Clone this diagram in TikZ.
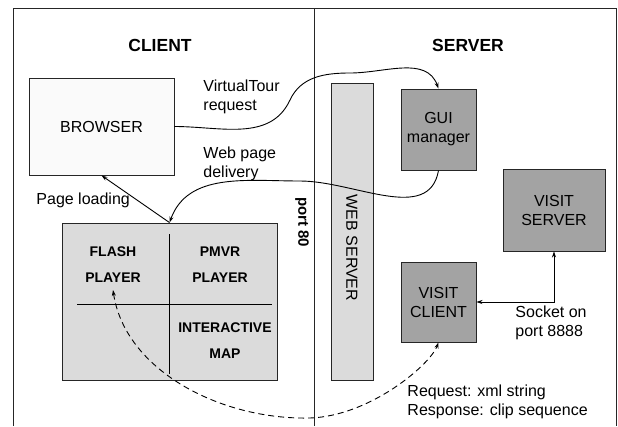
\documentclass[tikz,border=0pt]{standalone}
\usepackage{fontspec}
\setmainfont{Liberation Sans}
\usetikzlibrary{arrows.meta}

\definecolor{paper}{gray}{0.98}
\definecolor{pale}{gray}{0.86}
\definecolor{mid}{gray}{0.64}

\begin{document}
\begin{tikzpicture}[x=1pt, y=-1pt, line width=0.9pt,
    >={Stealth[length=6pt,width=4pt]},
    box/.style={draw=black!85, rectangle, inner sep=0pt, align=center,
                font=\fontsize{16}{19}\selectfont},
    heading/.style={font=\fontsize{17.5}{20}\selectfont\bfseries},
    note/.style={anchor=west, align=left, inner sep=0pt,
                 font=\fontsize{16}{18.5}\selectfont},
    cell/.style={align=center, font=\fontsize{14}{26}\selectfont\bfseries}]
  \useasboundingbox (0,0) rectangle (618,426);
  % Frame and client/server divider
  \draw[black!85] (13,426) -- (13,8) -- (616,8) -- (616,426);
  \draw[black!85] (314,8) -- (314,426);
  \node[heading] (client) at (160,45) {CLIENT};
  \node[heading] (server) at (468,45) {SERVER};
  % Boxes
  \node[box, fill=paper, minimum width=145, minimum height=97] (browser) at (101.5,126.5) {BROWSER};
  \node[box, fill=pale, minimum width=42, minimum height=297] (webserver) at (352,231.5) {};
  \node[rotate=-90, font=\fontsize{16}{19}\selectfont] (wslabel) at (352,248) {WEB SERVER};
  \node[box, fill=mid, minimum width=75, minimum height=81] (gui) at (438.5,129.5) {GUI\\manager};
  \node[box, fill=mid, minimum width=102, minimum height=82] (visitsrv) at (554,210) {VISIT\\SERVER};
  \node[box, fill=mid, minimum width=75, minimum height=80] (visitcli) at (438.5,302) {VISIT\\CLIENT};
  \node[box, fill=pale, minimum width=215, minimum height=157] (player) at (169.5,301.5) {};
  % Quarters of the player box
  \draw (169,234) -- (169,374);
  \draw (77,304) -- (272,304);
  \node[cell] (flash) at (113,265) {FLASH\\PLAYER};
  \node[cell] (pmvr) at (220,265) {PMVR\\PLAYER};
  \node[cell] (map) at (225,341) {INTERACTIVE\\MAP};
  \coordinate (flashtip) at (113,290);
  % Connectors
  \draw[->] (browser.east) to[out=0,in=-115] (290,100) to[out=65,in=180] (350,73)
    to[out=0,in=110] (gui.north);
  \draw[->] (gui.south) to[out=-100,in=0] (300,181) to[out=180,in=70] (player.north);
  \draw[->] (player.north) -- (browser.south);
  \draw[<->] (visitsrv.south) |- (visitcli.east);
  \draw[<->, dashed, dash pattern=on 6pt off 4pt] (flashtip) .. controls (125,370) and (220,420) .. (310,418)
    .. controls (370,416) and (430,365) .. (visitcli.south);
  % Labels
  \node[note] (tourreq) at (203,97) {VirtualTour\\request};
  \node[note] (delivery) at (203,164) {Web page\\delivery};
  \node[note] (loading) at (36,200) {Page loading};
  \node[rotate=-90, font=\fontsize{15}{18}\selectfont\bfseries] (port) at (302,222) {port 80};
  \node[note] (socket) at (515,323) {Socket on\\port 8888};
  \node[note] (xmlreq) at (407,402) {Request: xml string\\Response: clip sequence};
\end{tikzpicture}
\end{document}
